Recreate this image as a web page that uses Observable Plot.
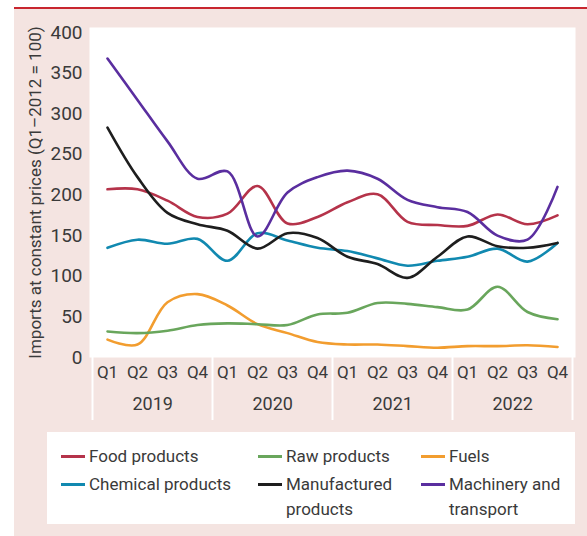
<!DOCTYPE html>
<html>
<head>
<meta charset="utf-8">
<script src="https://cdn.jsdelivr.net/npm/d3@7"></script>
<script src="https://cdn.jsdelivr.net/npm/@observablehq/plot@0.6"></script>
<style>
  html, body { margin: 0; padding: 0; background: #ffffff; }
  body { width: 587px; height: 536px; position: relative; overflow: hidden; font-family: Roboto, "Liberation Sans", sans-serif; color: #3a3a3a; }
  #panel { position: absolute; left: 14px; top: 7px; width: 573px; height: 529px; background: #f4e4e1; border-top: 2px solid #c8262f; box-sizing: border-box; }
  #chart { position: absolute; left: 0; top: 0; }
  #legend { position: absolute; left: 47px; top: 432px; width: 528px; height: 92px; background: #ffffff; box-sizing: border-box; padding: 12px 0 0 14px; display: grid; grid-template-columns: 197px 163px auto; row-gap: 0; font-size: 17px; line-height: 25px; }
  .item { display: flex; align-items: flex-start; }
  .sw { display: inline-block; width: 24px; height: 3px; margin-top: 11px; margin-right: 4px; flex: none; }
  .lab { display: inline-block; }
</style>
</head>
<body>
<div id="panel"></div>
<div id="chart"></div>
<div id="legend"></div>
<script>
const quarters = ["Q1", "Q2", "Q3", "Q4"];
const years = ["2019", "2020", "2021", "2022"];
const yTicks = [0, 50, 100, 150, 200, 250, 300, 350, 400];
const yLabel = "Imports at constant prices (Q1\u20132012 = 100)";

const seriesNames = ["Food products", "Raw products", "Fuels", "Chemical products", "Manufactured products", "Machinery and transport"];
const seriesColors = ["#b5334a", "#69a65c", "#f29d2f", "#1189b0", "#1e1e1e", "#5a2e9f"];

const food =         [207, 207, 193, 173, 177, 211, 165, 173, 191, 201, 167, 163, 162, 176, 164, 175];
const raw =          [32, 30, 33, 40, 42, 41, 40, 53, 55, 67, 66, 62, 59, 87, 56, 47];
const fuels =        [22, 16, 68, 78, 64, 41, 30, 19, 16, 16, 14, 12, 14, 14, 15, 13];
const chemical =     [135, 145, 140, 146, 119, 153, 144, 135, 131, 122, 113, 119, 124, 134, 118, 141];
const manufactured = [283, 222, 178, 164, 156, 134, 153, 147, 124, 115, 98, 124, 149, 137, 135, 141];
const machinery =    [368, 317, 266, 220, 229, 149, 203, 222, 230, 220, 194, 185, 179, 150, 145, 210];

const periods = years.flatMap(y => quarters.map(q => `${y} ${q}`));
const valuesBySeries = [food, raw, fuels, chemical, manufactured, machinery];
const drawOrder = [2, 1, 3, 0, 4, 5];
const data = drawOrder.flatMap(s => valuesBySeries[s].map((v, i) => ({series: seriesNames[s], period: periods[i], value: v})));

const bounds = years.map(y => ({period: `${y} Q1`, side: -1})).concat([{period: `${years[years.length - 1]} Q4`, side: 1}]);

const chart = Plot.plot({
  width: 587,
  height: 430,
  marginLeft: 89,
  marginRight: 12,
  marginTop: 27,
  marginBottom: 73,
  style: {background: "transparent", fontFamily: "Roboto, 'Liberation Sans', sans-serif", color: "#3a3a3a", overflow: "visible"},
  x: {type: "point", domain: periods, padding: 0.5},
  y: {domain: [0, 400], range: [357, 32]},
  color: {domain: seriesNames, range: seriesColors},
  marks: [
    Plot.frame({fill: "white", stroke: null}),
    Plot.ruleX(bounds, {x: "period", stroke: "white", strokeWidth: 2, insetTop: 330, insetBottom: -63, render: (index, scales, values, dims, ctx, next) => {
      const g = next(index, scales, values, dims, ctx);
      const step = scales.x.step ? scales.x.step() : 30.375;
      d3.select(g).selectAll("line").each(function(_, j) {
        const side = bounds[index[j]].side;
        const x = +this.getAttribute("x1") + side * step / 2;
        this.setAttribute("x1", x); this.setAttribute("x2", x);
      });
      return g;
    }}),
    Plot.axisY({ticks: yTicks, tickSize: 0, tickPadding: 7, fontSize: 19, label: null}),
    Plot.text([yLabel], {frameAnchor: "left", rotate: -90, dx: -54, fontSize: 17, textAnchor: "middle", lineAnchor: "middle", text: d => d}),
    Plot.axisX({tickSize: 0, tickPadding: 8, fontSize: 17, tickFormat: d => d.split(" ")[1], label: null}),
    Plot.text(years, {x: d => `${d} Q2`, dx: 15.2, frameAnchor: "bottom", dy: 52, fontSize: 18}),
    Plot.line(data, {x: "period", y: "value", z: "series", stroke: "series", strokeWidth: 2.6, curve: "catmull-rom"})
  ]
});
document.getElementById("chart").appendChild(chart);

const legend = document.getElementById("legend");
const labWidths = ["auto", "130px", "118px"];
seriesNames.forEach((name, i) => {
  const item = document.createElement("div");
  item.className = "item";
  const sw = document.createElement("span");
  sw.className = "sw";
  sw.style.background = seriesColors[i];
  const lab = document.createElement("span");
  lab.className = "lab";
  lab.style.width = labWidths[i % 3];
  lab.textContent = name;
  item.appendChild(sw);
  item.appendChild(lab);
  legend.appendChild(item);
});
</script>
</body>
</html>
